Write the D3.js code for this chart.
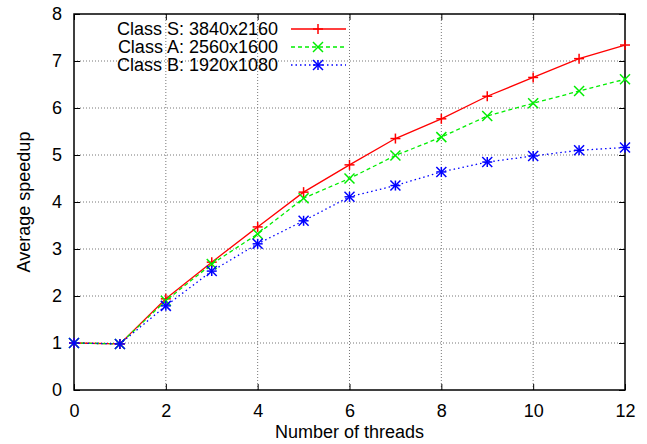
<!DOCTYPE html>
<html>
<head>
    <meta charset="utf-8">
    <script src="https://d3js.org/d3.v7.min.js"></script>
    <style>
        body { margin: 0; background: #fff; }
        text { font-family: "Liberation Sans", Arial, sans-serif; fill: #000; }
    </style>
</head>
<body>
    <div id="chart"></div>

    <script>
        // data
        const threads = [0, 1, 2, 3, 4, 5, 6, 7, 8, 9, 10, 11, 12];
        const classS = [1.0, 0.98, 1.94, 2.72, 3.47, 4.21, 4.79, 5.35, 5.77, 6.25, 6.65, 7.05, 7.34];
        const classA = [1.0, 0.98, 1.90, 2.68, 3.32, 4.08, 4.50, 4.99, 5.38, 5.83, 6.10, 6.36, 6.61];
        const classB = [1.0, 0.98, 1.79, 2.53, 3.11, 3.60, 4.11, 4.35, 4.64, 4.85, 4.98, 5.10, 5.16];
        const seriesNames = ["Class S: 3840x2160", "Class A: 2560x1600", "Class B: 1920x1080"];
        const xTicks = [0, 2, 4, 6, 8, 10, 12];
        const yTicks = [0, 1, 2, 3, 4, 5, 6, 7, 8];

        const series = [
            {name: seriesNames[0], values: classS, color: "#ff0000", dash: null, marker: "plus"},
            {name: seriesNames[1], values: classA, color: "#00ee00", dash: "4,3", marker: "cross"},
            {name: seriesNames[2], values: classB, color: "#0000ff", dash: "1.5,3", marker: "star"}
        ];

        const width = 647;
        const height = 444;
        const margin = {top: 14, right: 22, bottom: 54, left: 74};
        const innerWidth = width - margin.left - margin.right;
        const innerHeight = height - margin.top - margin.bottom;
        const fontSize = "18px";

        const svg = d3.select("#chart")
            .append("svg")
            .attr("width", width)
            .attr("height", height);

        const g = svg.append("g")
            .attr("transform", `translate(${margin.left}, ${margin.top})`);

        const xScale = d3.scaleLinear().domain([0, 12]).range([0, innerWidth]);
        const yScale = d3.scaleLinear().domain([0, 8]).range([innerHeight, 0]);

        // grid
        g.append("g").selectAll("line.gx")
            .data(xTicks.slice(1, -1))
            .enter().append("line")
            .attr("x1", d => xScale(d)).attr("x2", d => xScale(d))
            .attr("y1", 0).attr("y2", innerHeight)
            .attr("stroke", "#777").attr("stroke-width", 1)
            .attr("stroke-dasharray", "1,2");
        g.append("g").selectAll("line.gy")
            .data(yTicks.slice(1, -1))
            .enter().append("line")
            .attr("x1", 0).attr("x2", innerWidth)
            .attr("y1", d => yScale(d)).attr("y2", d => yScale(d))
            .attr("stroke", "#777").attr("stroke-width", 1)
            .attr("stroke-dasharray", "1,2");

        // axes (ticks inward, mirrored)
        const fmt = d3.format("d");
        const xAxis = g.append("g")
            .attr("transform", `translate(0, ${innerHeight})`)
            .call(d3.axisBottom(xScale).tickValues(xTicks).tickFormat(fmt).tickSizeInner(-6).tickSizeOuter(0).tickPadding(14));
        const yAxis = g.append("g")
            .call(d3.axisLeft(yScale).tickValues(yTicks).tickFormat(fmt).tickSizeInner(-6).tickSizeOuter(0).tickPadding(12));
        const topAxis = g.append("g")
            .call(d3.axisTop(xScale).tickValues(xTicks).tickSizeInner(-6).tickSizeOuter(0));
        const rightAxis = g.append("g")
            .attr("transform", `translate(${innerWidth}, 0)`)
            .call(d3.axisRight(yScale).tickValues(yTicks).tickSizeInner(-6).tickSizeOuter(0));
        topAxis.selectAll("text").remove();
        rightAxis.selectAll("text").remove();
        g.selectAll(".domain").remove();
        g.selectAll(".tick line").attr("stroke", "#000");
        xAxis.selectAll("text").style("font-size", fontSize).style("font-family", "Liberation Sans, Arial, sans-serif");
        yAxis.selectAll("text").style("font-size", fontSize).style("font-family", "Liberation Sans, Arial, sans-serif");

        // frame
        g.append("rect")
            .attr("x", 0).attr("y", 0)
            .attr("width", innerWidth).attr("height", innerHeight)
            .attr("fill", "none").attr("stroke", "#000").attr("stroke-width", 1.5);

        // markers
        function drawMarker(sel, type, x, y, color) {
            const s = 5;
            const m = sel.append("g").attr("transform", `translate(${x}, ${y})`)
                .attr("stroke", color).attr("stroke-width", 1.5).attr("fill", "none");
            if (type === "plus" || type === "star") {
                m.append("line").attr("x1", -s).attr("x2", s).attr("y1", 0).attr("y2", 0);
                m.append("line").attr("x1", 0).attr("x2", 0).attr("y1", -s).attr("y2", s);
            }
            if (type === "cross" || type === "star") {
                m.append("line").attr("x1", -s).attr("x2", s).attr("y1", -s).attr("y2", s);
                m.append("line").attr("x1", -s).attr("x2", s).attr("y1", s).attr("y2", -s);
            }
        }

        const line = d3.line()
            .x((d, i) => xScale(threads[i]))
            .y(d => yScale(d));

        series.forEach(s => {
            g.append("path")
                .datum(s.values)
                .attr("d", line)
                .attr("fill", "none")
                .attr("stroke", s.color)
                .attr("stroke-width", 1.3)
                .attr("stroke-dasharray", s.dash);
            s.values.forEach((v, i) => drawMarker(g, s.marker, xScale(threads[i]), yScale(v), s.color));
        });

        // legend
        const legend = svg.append("g");
        series.forEach((s, i) => {
            const y = 29 + i * 18;
            legend.append("text")
                .attr("x", 278).attr("y", y)
                .attr("dy", "0.35em")
                .attr("text-anchor", "end")
                .style("font-size", fontSize)
                .text(s.name);
            legend.append("line")
                .attr("x1", 291).attr("x2", 346)
                .attr("y1", y).attr("y2", y)
                .attr("stroke", s.color).attr("stroke-width", 1.3)
                .attr("stroke-dasharray", s.dash);
            drawMarker(legend, s.marker, 318, y, s.color);
        });

        // axis titles
        svg.append("text")
            .attr("x", margin.left + innerWidth / 2)
            .attr("y", 438)
            .attr("text-anchor", "middle")
            .style("font-size", fontSize)
            .text("Number of threads");
        svg.append("text")
            .attr("transform", `translate(24, ${margin.top + innerHeight / 2}) rotate(-90)`)
            .attr("dy", "0.35em")
            .attr("text-anchor", "middle")
            .style("font-size", fontSize)
            .text("Average speedup");
    </script>
</body>
</html>
